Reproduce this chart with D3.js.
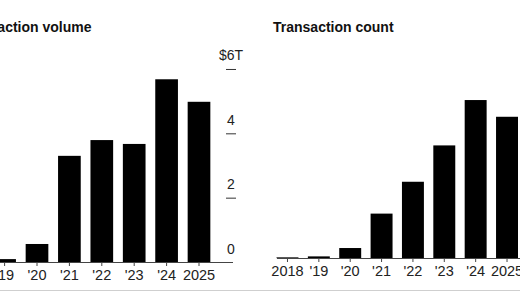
<!DOCTYPE html>
<html>
<head>
<meta charset="utf-8">
<script src="https://cdn.jsdelivr.net/npm/d3@7/dist/d3.min.js"></script>
<style>
  html, body { margin: 0; padding: 0; background: #fff; }
  svg { display: block; }
  text { font-family: "Liberation Sans", Arial, sans-serif; }
</style>
</head>
<body>
<svg id="chart" width="520" height="293"></svg>
<script>
// ---- data ----
const years = ["2018", "2019", "2020", "2021", "2022", "2023", "2024", "2025"];
const yearLabels = ["2018", "'19", "'20", "'21", "'22", "'23", "'24", "2025"];
const volumeValues = [0.03, 0.09, 0.56, 3.30, 3.79, 3.67, 5.68, 4.98]; // trillions USD
const countValues = [0.02, 0.05, 0.31, 1.38, 2.37, 3.50, 4.91, 4.39];  // relative units (axis cropped)
const volumeTicks = [0, 2, 4, 6];
const volumeTickLabels = ["0", "2", "4", "$6T"];
const titles = ["Transaction volume", "Transaction count"];

const svg = d3.select("#chart");

// bottom rule
svg.append("line")
  .attr("x1", 0).attr("x2", 520).attr("y1", 290.5).attr("y2", 290.5)
  .attr("stroke", "#cfcfcf").attr("stroke-width", 1);

function panel(opts) {
  const g = svg.append("g");
  const x = d3.scaleBand().domain(years).range(opts.xRange)
    .paddingInner(0.3).paddingOuter(0.15);
  const y = d3.scaleLinear().domain([0, 6]).range([opts.base, opts.base - 6 * opts.unit]);

  // title
  g.append("text")
    .attr("x", opts.titleX).attr("y", 32)
    .attr("font-size", 14).attr("font-weight", "bold").attr("fill", "#111")
    .text(opts.title);

  // bars
  g.selectAll("rect.bar").data(years.map((yr, i) => ({yr, v: opts.values[i]})))
    .join("rect").attr("class", "bar")
    .attr("x", d => x(d.yr))
    .attr("width", x.bandwidth())
    .attr("y", d => y(d.v))
    .attr("height", d => Math.max(0.8, y(0) - y(d.v)))
    .attr("fill", "#000");

  // x axis
  const xAxis = d3.axisBottom(x).tickSize(4).tickPadding(4)
    .tickFormat((d, i) => yearLabels[i]);
  const ax = g.append("g").attr("transform", `translate(0,${opts.base})`).call(xAxis);
  ax.select(".domain").remove();
  ax.selectAll(".tick line").attr("stroke", "#444");
  ax.selectAll(".tick text").attr("font-size", 14.5).attr("fill", "#222")
    .attr("font-family", "Liberation Sans, Arial, sans-serif");
  g.append("line")
    .attr("x1", opts.baseX1).attr("x2", opts.baseX2)
    .attr("y1", opts.base + 0.5).attr("y2", opts.base + 0.5)
    .attr("stroke", "#444").attr("stroke-width", 1);

  // y axis (right side)
  if (opts.yAxisX != null) {
    const ticks = g.selectAll("g.ytick").data(volumeTicks).join("g")
      .attr("class", "ytick")
      .attr("transform", d => `translate(${opts.yAxisX},${y(d)})`);
    ticks.filter(d => d !== 0).append("line")
      .attr("x1", -5).attr("x2", 5).attr("y1", 0.5).attr("y2", 0.5)
      .attr("stroke", "#333").attr("stroke-width", 1);
    ticks.append("text")
      .attr("text-anchor", "middle").attr("y", -8.5)
      .attr("font-size", 14).attr("fill", "#222")
      .text((d, i) => volumeTickLabels[i]);
  }
}

panel({
  title: titles[0], titleX: -40, values: volumeValues,
  xRange: [-44, 215.2], base: 262, unit: 32.17,
  baseX1: -44, baseX2: 233, yAxisX: 231
});
panel({
  title: titles[1], titleX: 273, values: countValues,
  xRange: [271.8, 522.7], base: 258, unit: 32.17,
  baseX1: 277, baseX2: 560, yAxisX: null
});
</script>
</body>
</html>
